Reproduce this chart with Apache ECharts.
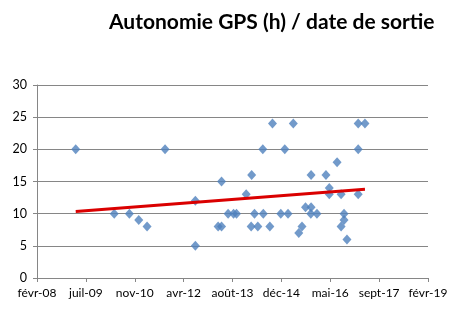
<!DOCTYPE html>
<html>
<head>
<meta charset="utf-8">
<script src="https://cdn.jsdelivr.net/npm/echarts@6/dist/echarts.min.js"></script>
<style>
html, body { margin: 0; padding: 0; background: #fff; }
#main { width: 460px; height: 310px; }
</style>
</head>
<body>
<div id="main"></div>
<script>
// dates de sortie and autonomie (h)
var dates = [
    '2009-03-24', '2010-04-22', '2010-09-24', '2010-12-29', '2011-03-24', '2011-09-24',
    '2012-07-30', '2012-07-30', '2013-03-20', '2013-04-24', '2013-04-24', '2013-06-30',
    '2013-08-25', '2013-09-24', '2014-01-01', '2014-02-26', '2014-02-21', '2014-03-27',
    '2014-04-30', '2014-06-20', '2014-06-25', '2014-08-31', '2014-09-27', '2014-12-21',
    '2015-01-31', '2015-03-05', '2015-04-28', '2015-06-23', '2015-07-26', '2015-08-31',
    '2015-10-27', '2015-10-27', '2015-10-24', '2015-12-26', '2016-03-27', '2016-04-30',
    '2016-04-30', '2016-07-19', '2016-08-29', '2016-08-29', '2016-09-28', '2016-09-28',
    '2016-10-28', '2017-02-20', '2017-02-20', '2017-02-20', '2017-04-30'
];
var autonomie = [
    20, 10, 10, 9, 8, 20,
    12, 5, 8, 8, 15, 10,
    10, 10, 13, 16, 8, 10,
    8, 20, 10, 8, 24, 10,
    20, 10, 24, 7, 8, 11,
    11, 16, 10, 10, 16, 14,
    13, 18, 13, 8, 10, 9,
    6, 24, 20, 13, 24
];
// linear trendline ends (Excel)
var trendDates = ['2009-03-24', '2017-04-30'];
var trendValues = [10.35, 13.8];

var moisFr = ['janv', 'févr', 'mars', 'avr', 'mai', 'juin', 'juil', 'août', 'sept', 'oct', 'nov', 'déc'];

// Excel style day serial
function toSerial(s) {
    var p = s.split('-');
    return Date.UTC(+p[0], +p[1] - 1, +p[2]) / 86400000 + 25569;
}
function serialLabel(v) {
    var d = new Date((v - 25569) * 86400000);
    var yy = String(d.getUTCFullYear() % 100);
    if (yy.length < 2) yy = '0' + yy;
    return moisFr[d.getUTCMonth()] + '-' + yy;
}

var points = [];
for (var i = 0; i < dates.length; i++) {
    points.push([toSerial(dates[i]), autonomie[i]]);
}
var trend = [];
for (var j = 0; j < trendDates.length; j++) {
    trend.push([toSerial(trendDates[j]), trendValues[j]]);
}

var chart = echarts.init(document.getElementById('main'), null, { renderer: 'canvas' });
var font = 'Lato, "Open Sans", sans-serif';
chart.setOption({
    animation: false,
    title: {
        text: 'Autonomie GPS (h) / date de sortie',
        left: 104,
        top: 7,
        textStyle: { fontFamily: font, fontWeight: 'bold', fontSize: 21, color: '#000' }
    },
    grid: { left: 37, right: 32, top: 85, bottom: 32 },
    xAxis: {
        type: 'value',
        min: 39500,
        max: 43500,
        interval: 500,
        splitLine: { show: false },
        axisLine: { lineStyle: { color: '#868686' } },
        axisTick: { show: true, length: 4, lineStyle: { color: '#868686' } },
        axisLabel: { formatter: serialLabel, color: '#000', fontFamily: font, fontSize: 12, margin: 9 }
    },
    yAxis: {
        type: 'value',
        min: 0,
        max: 30,
        interval: 5,
        splitLine: { lineStyle: { color: '#868686', width: 1 } },
        axisLine: { show: true, lineStyle: { color: '#868686' } },
        axisTick: { show: true, length: 4, lineStyle: { color: '#868686' } },
        axisLabel: { color: '#000', fontFamily: font, fontSize: 12.5, margin: 10 }
    },
    series: [
        {
            type: 'scatter',
            data: points,
            symbol: 'diamond',
            symbolSize: [9, 10],
            itemStyle: { color: '#4F81BD' }
        },
        {
            type: 'line',
            data: trend,
            symbol: 'none',
            lineStyle: { color: '#DA0000', width: 3 },
            z: 3
        }
    ]
});
</script>
</body>
</html>
